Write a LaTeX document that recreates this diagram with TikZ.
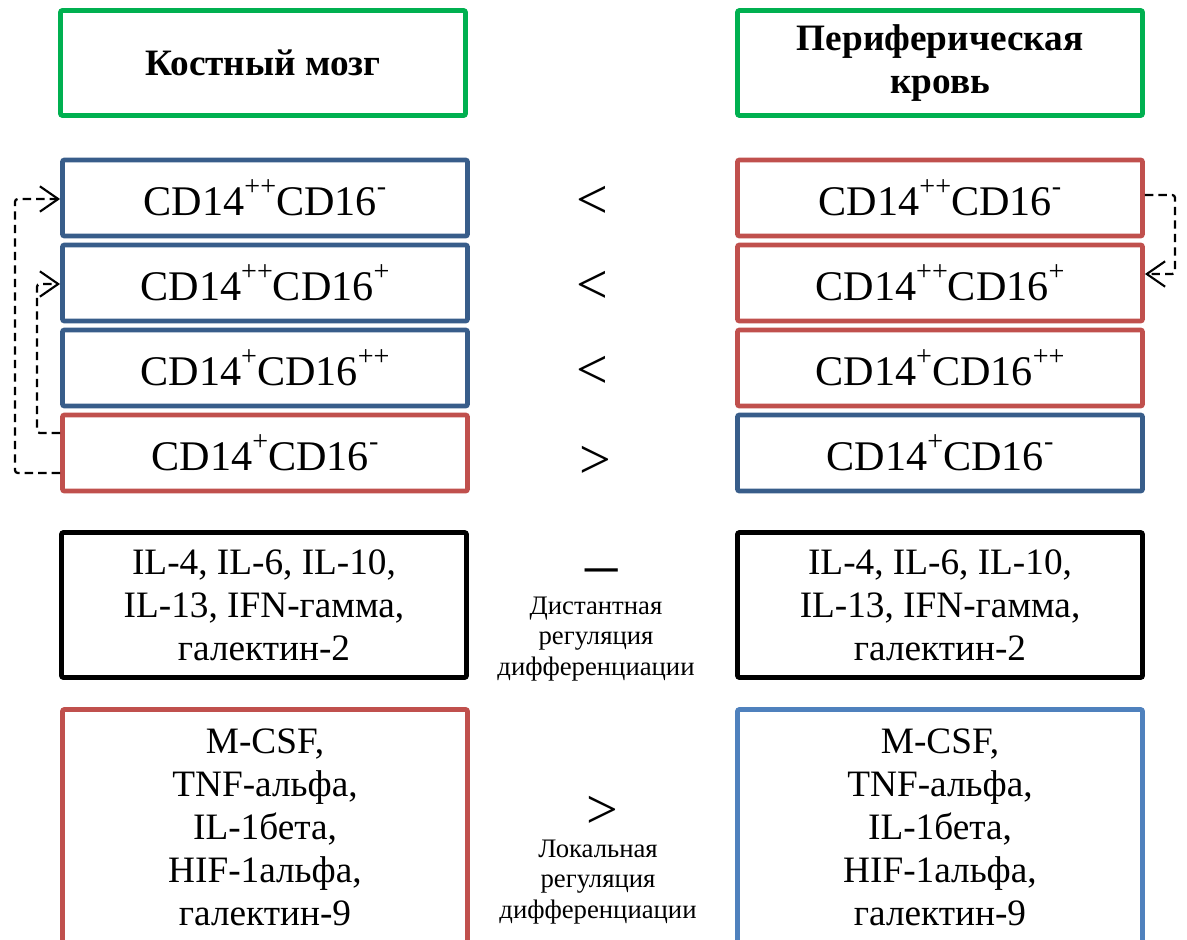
\documentclass[tikz,border=0pt]{standalone}
\usepackage{fontspec}
\setmainfont{Liberation Serif}
\usetikzlibrary{arrows.meta,calc}
\definecolor{hgreen}{HTML}{00B050}
\definecolor{dblue}{HTML}{385D8A}
\definecolor{dred}{HTML}{C0504D}
\definecolor{lblue}{HTML}{4F81BD}
\newcommand{\sups}[1]{\raisebox{14pt}{\fontsize{20}{20}\selectfont #1}}
\begin{document}
\begin{tikzpicture}[x=0.025cm,y=-0.025cm,
  box/.style={draw, line width=3.4pt, rounded corners=1.5pt, minimum width=10.125cm, align=center, inner sep=0pt},
  headbox/.style={box, draw=hgreen, minimum height=2.625cm, font=\fontsize{26.5}{30.6}\selectfont\bfseries},
  cdbox/.style={box, minimum height=1.9cm, font=\fontsize{30}{36}\selectfont},
  ilbox/.style={box, draw=black, minimum height=3.625cm, font=\fontsize{26.5}{30.6}\selectfont},
  csfbox/.style={box, minimum height=5.875cm, font=\fontsize{26.5}{30.6}\selectfont},
  cmp/.style={font=\fontsize{40}{44}\selectfont, inner sep=0pt, text depth=0pt, anchor=base},
  note/.style={align=center, font=\fontsize{19}{21.5}\selectfont, inner sep=0pt},
  dasharrow/.style={dashed, dash pattern=on 6pt off 3.6pt, line width=1.6pt, rounded corners=2pt, -{Straight Barb[length=13pt,width=18pt,line width=1.5pt]}}
]
\useasboundingbox (0,0) rectangle (1187,939);
\clip (0,0) rectangle (1187,939);

% headers
\node[headbox] (hl) at (263,63) {Костный мозг};
\node[headbox] (hr) at (940,63) {Периферическая\\кровь};

% CD rows left
\node[cdbox, draw=dblue] (r1l) at (265,198) {CD14\sups{++}CD16\sups{-}};
\node[cdbox, draw=dblue] (r2l) at (265,283) {CD14\sups{++}CD16\sups{+}};
\node[cdbox, draw=dblue] (r3l) at (265,368) {CD14\sups{+}CD16\sups{++}};
\node[cdbox, draw=dred]  (r4l) at (265,453) {CD14\sups{+}CD16\sups{-}};
% CD rows right
\node[cdbox, draw=dred]  (r1r) at (940,198) {CD14\sups{++}CD16\sups{-}};
\node[cdbox, draw=dred]  (r2r) at (940,283) {CD14\sups{++}CD16\sups{+}};
\node[cdbox, draw=dred]  (r3r) at (940,368) {CD14\sups{+}CD16\sups{++}};
\node[cdbox, draw=dblue] (r4r) at (940,453) {CD14\sups{+}CD16\sups{-}};

% comparisons
\node[cmp] (c1) at (592,218) {<};
\node[cmp] (c2) at (592,303) {<};
\node[cmp] (c3) at (592,388) {<};
\node[cmp] (c4) at (595,478) {>};

% cytokine boxes
\node[ilbox] (il) at (264,605) {IL-4, IL-6, IL-10,\\IL-13, IFN-гамма,\\галектин-2};
\node[ilbox] (ir) at (940,605) {IL-4, IL-6, IL-10,\\IL-13, IFN-гамма,\\галектин-2};
\node[cmp, font=\fontsize{46}{50}\selectfont] (c5) at (602,585) {–};
\node[note] (n1) at (596,639) {Дистантная\\регуляция\\дифференциации};

\node[csfbox, draw=dred] (ml) at (265,827) {M-CSF,\\TNF-альфа,\\IL-1бета,\\HIF-1альфа,\\галектин-9};
\node[csfbox, draw=lblue] (mr) at (940,827) {M-CSF,\\TNF-альфа,\\IL-1бета,\\HIF-1альфа,\\галектин-9};
\node[cmp] (c6) at (602,828) {>};
\node[note] (n2) at (598,882) {Локальная\\регуляция\\дифференциации};

% dashed arrows
\coordinate (o1) at ($(r4l.west)+(0,20)$);
\coordinate (o2) at ($(r4l.west)+(0,-20)$);
\draw[dasharrow] (o1) -- (15,473) -- (15,199) -- (r1l.west |- 0,199);
\draw[dasharrow] (o2) -- (37,433) -- (37,284) -- (r2l.west |- 0,284);
\coordinate (o3) at ($(r1r.east)+(0,-3)$);
\draw[dasharrow] (o3) -- (1175,195) -- (1175,274) -- (r2r.east |- 0,274);
\end{tikzpicture}
\end{document}
